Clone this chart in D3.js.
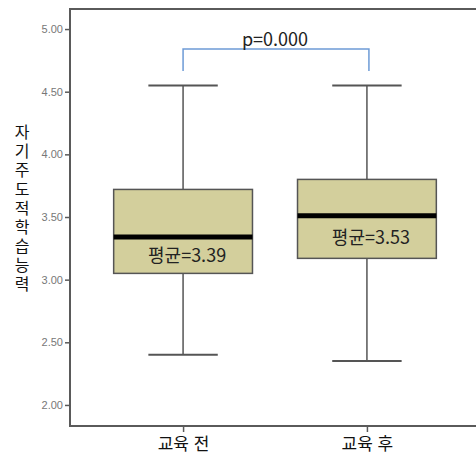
<!DOCTYPE html>
<html lang="ko">
  <head>
    <meta charset="UTF-8" />
    <title>자기주도적학습능력 box plot</title>
    <script src="https://cdnjs.cloudflare.com/ajax/libs/d3/7.8.5/d3.min.js"></script>
    <style>
      body {
        margin: 0;
        background: #fff;
        font-family: 'Noto Sans CJK KR', 'Noto Sans', sans-serif;
      }
      .ylabel {
        writing-mode: vertical-rl;
        text-orientation: upright;
      }
    </style>
  </head>
  <body>
    <svg width="476" height="457"></svg>
    <script>
      // Data
      const groups = ['교육 전', '교육 후'];
      const whiskerLow = [2.4, 2.35];
      const q1 = [3.05, 3.17];
      const median = [3.34, 3.51];
      const q3 = [3.72, 3.8];
      const whiskerHigh = [4.55, 4.55];
      const means = [3.39, 3.53];
      const yTicks = [2.0, 2.5, 3.0, 3.5, 4.0, 4.5, 5.0];
      const pLabel = 'p=0.000';
      const yLabel = '자기주도적학습능력';

      const svg = d3.select('svg');
      const plotLeft = 70, plotRight = 480, plotTop = 9, plotBottom = 426;

      const y = d3.scaleLinear().domain([1.832, 5.16]).range([plotBottom, plotTop]);
      const x = d3.scalePoint().domain(groups).range([plotLeft, plotRight]).padding(0.615);
      const boxW = x.step() * 0.755;

      const frame = '#5a5a5a';

      // Boxes
      const box = svg
        .selectAll('.box')
        .data(groups)
        .enter()
        .append('g')
        .attr('class', 'box');

      box
        .append('line')
        .attr('x1', d => x(d))
        .attr('x2', d => x(d))
        .attr('y1', (d, i) => y(whiskerHigh[i]))
        .attr('y2', (d, i) => y(whiskerLow[i]))
        .attr('stroke', '#555')
        .attr('stroke-width', 1.5);

      box
        .append('line')
        .attr('x1', d => x(d) - boxW / 4)
        .attr('x2', d => x(d) + boxW / 4)
        .attr('y1', (d, i) => y(whiskerHigh[i]))
        .attr('y2', (d, i) => y(whiskerHigh[i]))
        .attr('stroke', '#555')
        .attr('stroke-width', 2);

      box
        .append('line')
        .attr('x1', d => x(d) - boxW / 4)
        .attr('x2', d => x(d) + boxW / 4)
        .attr('y1', (d, i) => y(whiskerLow[i]))
        .attr('y2', (d, i) => y(whiskerLow[i]))
        .attr('stroke', '#555')
        .attr('stroke-width', 2);

      box
        .append('rect')
        .attr('x', d => x(d) - boxW / 2)
        .attr('width', boxW)
        .attr('y', (d, i) => y(q3[i]))
        .attr('height', (d, i) => y(q1[i]) - y(q3[i]))
        .attr('fill', '#d3cf9c')
        .attr('stroke', '#555')
        .attr('stroke-width', 1.5);

      box
        .append('line')
        .attr('x1', d => x(d) - boxW / 2)
        .attr('x2', d => x(d) + boxW / 2)
        .attr('y1', (d, i) => y(median[i]))
        .attr('y2', (d, i) => y(median[i]))
        .attr('stroke', '#000')
        .attr('stroke-width', 5);

      box
        .append('text')
        .attr('x', d => x(d) + 4)
        .attr('y', (d, i) => (y(median[i]) + y(q1[i])) / 2 + 7)
        .attr('text-anchor', 'middle')
        .attr('font-size', 18)
        .attr('fill', '#222')
        .text((d, i) => '평균=' + means[i].toFixed(2));

      // Frame
      svg
        .append('path')
        .attr('d', `M${476},${plotTop}H${plotLeft}V${plotBottom}H${476}`)
        .attr('fill', 'none')
        .attr('stroke', frame)
        .attr('stroke-width', 2);

      // Y axis ticks
      const yAxis = svg
        .append('g')
        .attr('transform', `translate(${plotLeft},0)`)
        .call(
          d3
            .axisLeft(y)
            .tickValues(yTicks)
            .tickSize(5)
            .tickPadding(2)
            .tickFormat(d3.format('.2f')),
        );
      yAxis.select('.domain').remove();
      yAxis.selectAll('line').attr('stroke', frame).attr('stroke-width', 1.5);
      yAxis
        .selectAll('text')
        .attr('fill', '#777')
        .attr('font-size', 11)
        .attr('font-family', 'Liberation Sans, sans-serif');

      // X axis
      const xAxis = svg
        .append('g')
        .attr('transform', `translate(0,${plotBottom})`)
        .call(d3.axisBottom(x).tickSize(6).tickPadding(6));
      xAxis.select('.domain').remove();
      xAxis.selectAll('line').attr('stroke', frame).attr('stroke-width', 1.5);
      xAxis
        .selectAll('text')
        .attr('fill', '#111')
        .attr('font-size', 17)
        .attr('font-family', 'Noto Sans CJK KR, sans-serif');

      // Y label, stacked upright characters
      svg
        .append('text')
        .attr('class', 'ylabel')
        .attr('x', 22)
        .attr('y', 124)
        .attr('font-size', 16)
        .attr('letter-spacing', 3)
        .attr('fill', '#111')
        .text(yLabel);

      // Significance bracket
      const bY = 49;
      svg
        .append('path')
        .attr('d', `M${x(groups[0])},71V${bY}H${x(groups[1]) + 2}V71`)
        .attr('fill', 'none')
        .attr('stroke', '#6d9bd6')
        .attr('stroke-width', 1.5);

      svg
        .append('text')
        .attr('x', (x(groups[0]) + x(groups[1])) / 2)
        .attr('y', 46)
        .attr('text-anchor', 'middle')
        .attr('font-size', 18)
        .attr('fill', '#222')
        .text(pLabel);
    </script>
  </body>
</html>
